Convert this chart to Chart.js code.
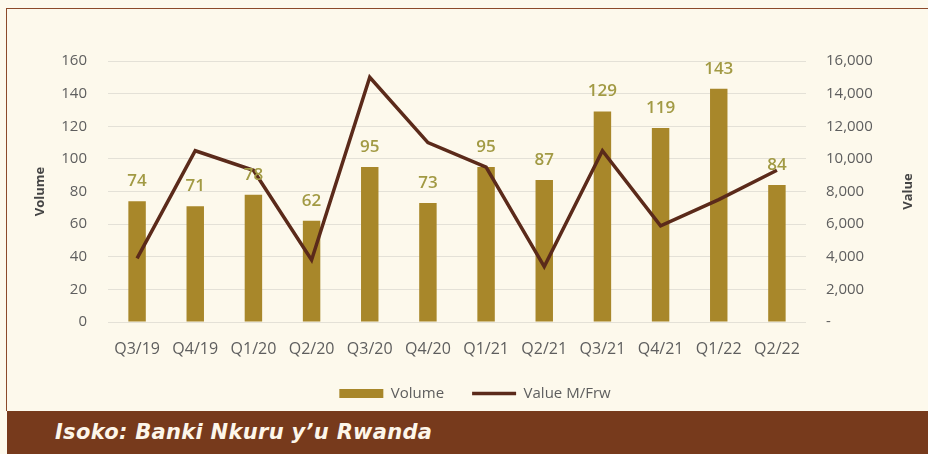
<!DOCTYPE html>
<html>
<head>
<meta charset="utf-8">
<script src="https://cdn.jsdelivr.net/npm/chart.js@4"></script>
<style>
  html, body { margin: 0; padding: 0; }
  body { width: 928px; height: 454px; background: #fdf9ec; position: relative; overflow: hidden; }
  #frame { position: absolute; left: 6px; top: 8px; width: 922px; height: 403px; border-top: 1.5px solid #8c4a2a; border-left: 1.5px solid #8c4a2a; box-sizing: border-box; }
  #chart { position: absolute; left: 0; top: 0; }
  #source { position: absolute; left: 7px; top: 411px; width: 921px; height: 43px; background: #773a1c; color: #fdf6ea;
    font: italic 700 21px "DejaVu Sans", sans-serif; letter-spacing: 0.3px; line-height: 43px; padding-left: 48px; box-sizing: border-box; }
</style>
</head>
<body>
<div id="frame"></div>
<canvas id="chart" width="928" height="411"></canvas>
<div id="source">Isoko: Banki Nkuru y’u Rwanda</div>
<script>
const quarters = ['Q3/19', 'Q4/19', 'Q1/20', 'Q2/20', 'Q3/20', 'Q4/20', 'Q1/21', 'Q2/21', 'Q3/21', 'Q4/21', 'Q1/22', 'Q2/22'];
const volume = [74, 71, 78, 62, 95, 73, 95, 87, 129, 119, 143, 84];
const valueMFrw = [3900, 10500, 9300, 3800, 15000, 11000, 9500, 3400, 10500, 5900, 7500, 9300];

const GOLD = '#a8872a';
const BROWN = '#5b2a1a';
const TICK = '#5e5e5e';

// numbers printed above each bar
const barLabels = {
  id: 'barLabels',
  afterDatasetsDraw(chart) {
    const meta = chart.getDatasetMeta(0);
    const ctx = chart.ctx;
    ctx.save();
    ctx.font = '600 17px "Open Sans", sans-serif';
    ctx.fillStyle = '#a29a44';
    ctx.textAlign = 'center';
    ctx.textBaseline = 'middle';
    meta.data.forEach((bar, i) => {
      ctx.fillText(volume[i], bar.x, bar.y - 20);
    });
    ctx.restore();
  }
};

// right axis title, rotated the same way as the left one
const rightTitle = {
  id: 'rightTitle',
  afterDraw(chart) {
    const ctx = chart.ctx;
    const area = chart.chartArea;
    ctx.save();
    ctx.translate(908, (area.top + area.bottom) / 2);
    ctx.rotate(-Math.PI / 2);
    ctx.font = 'bold 13px "Open Sans", sans-serif';
    ctx.fillStyle = '#444';
    ctx.textAlign = 'center';
    ctx.textBaseline = 'middle';
    ctx.fillText('Value', 0, 0);
    ctx.restore();
  }
};

new Chart(document.getElementById('chart'), {
  type: 'bar',
  data: {
    labels: quarters,
    datasets: [{
      label: 'Volume',
      data: volume,
      backgroundColor: GOLD,
      borderWidth: 0,
      barPercentage: 0.6,
      categoryPercentage: 0.5,
      pointStyle: 'rect',
      yAxisID: 'y',
      order: 1
    }, {
      type: 'line',
      label: 'Value M/Frw',
      data: valueMFrw,
      borderColor: BROWN,
      backgroundColor: BROWN,
      borderWidth: 3.5,
      pointRadius: 0,
      tension: 0,
      pointStyle: 'line',
      yAxisID: 'y1',
      order: 0
    }]
  },
  options: {
    responsive: false,
    animation: false,
    layout: { padding: { top: 61, left: 22, right: 0, bottom: 0 } },
    plugins: {
      tooltip: { enabled: false },
      legend: {
        position: 'bottom',
        labels: {
          usePointStyle: true,
          pointStyleWidth: 44,
          boxHeight: 9,
          padding: 28,
          color: TICK,
          font: { family: '"Open Sans", sans-serif', size: 15 },
          sort: (a, b) => a.datasetIndex - b.datasetIndex
        }
      }
    },
    scales: {
      x: {
        grid: { display: false },
        border: { display: false },
        ticks: { color: TICK, padding: 10, font: { family: '"Open Sans", sans-serif', size: 16 } },
        afterFit(scale) { scale.height = 36; }
      },
      y: {
        position: 'left',
        min: 0,
        max: 160,
        ticks: { stepSize: 20, color: TICK, padding: 21, font: { family: '"Open Sans", sans-serif', size: 15 } },
        grid: { color: '#e4e1d7', drawTicks: false },
        border: { display: false },
        title: {
          display: true,
          text: 'Volume',
          color: '#444',
          padding: { top: 10, bottom: 0 },
          font: { family: '"Open Sans", sans-serif', size: 13, weight: 'bold' }
        },
        afterFit(scale) { scale.width = 86; }
      },
      y1: {
        position: 'right',
        min: 0,
        max: 16000,
        ticks: {
          stepSize: 2000,
          color: TICK,
          padding: 20,
          font: { family: '"Open Sans", sans-serif', size: 15 },
          callback: v => v === 0 ? '-' : v.toLocaleString('en-US')
        },
        grid: { display: false, drawTicks: false },
        border: { display: false },
        afterFit(scale) { scale.width = 122; }
      }
    }
  },
  plugins: [barLabels, rightTitle]
});
</script>
</body>
</html>
